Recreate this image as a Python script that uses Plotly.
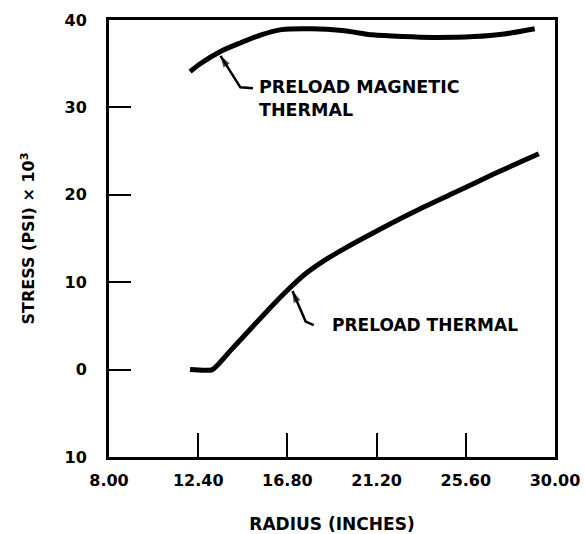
import plotly.graph_objects as go

# Data
radius_mag = [12.0, 12.5, 13.5, 14.5, 15.5, 16.5, 18.0, 19.5, 21.0, 22.5, 24.0, 26.0, 27.5, 29.0]
stress_mag = [34.1, 35.0, 36.4, 37.4, 38.3, 38.9, 39.0, 38.8, 38.3, 38.1, 38.0, 38.1, 38.4, 39.0]

radius_th = [12.0, 13.1, 14.0, 15.0, 16.0, 16.9, 17.6, 18.5, 19.5, 21.0, 23.0, 25.0, 27.0, 29.2]
stress_th = [0.0, 0.0, 2.2, 4.7, 7.2, 9.3, 10.8, 12.3, 13.7, 15.6, 18.0, 20.2, 22.4, 24.7]

x_tickvals = [8.0, 12.4, 16.8, 21.2, 25.6, 30.0]
x_ticktext = ["8.00", "12.40", "16.80", "21.20", "25.60", "30.00"]
y_tickvals = [-10, 0, 10, 20, 30, 40]
y_ticktext = ["10", "0", "10", "20", "30", "40"]

label_mag = "PRELOAD MAGNETIC<br>THERMAL"
label_th = "PRELOAD THERMAL"

# leader lines: text end -> bend -> arrow tip
leader_mag_x = [15.1, 14.48, 13.5]
leader_mag_y = [32.2, 32.3, 35.9]
leader_th_x = [18.1, 17.7, 17.05]
leader_th_y = [5.1, 5.5, 9.0]

FONT = "DejaVu Sans, Liberation Sans, sans-serif"

fig = go.Figure()
fig.add_trace(go.Scatter(x=radius_mag, y=stress_mag, mode="lines",
                         line=dict(color="black", width=5, shape="spline", smoothing=0.8), showlegend=False))
fig.add_trace(go.Scatter(x=radius_th, y=stress_th, mode="lines",
                         line=dict(color="black", width=5, shape="spline", smoothing=0.5), showlegend=False))

for lx, ly in [(leader_mag_x, leader_mag_y), (leader_th_x, leader_th_y)]:
    fig.add_trace(go.Scatter(x=lx, y=ly, mode="lines+markers",
                             line=dict(color="black", width=2.5),
                             marker=dict(symbol="arrow", angleref="previous", color="black",
                                         size=[0, 0, 12], line=dict(width=0)),
                             showlegend=False, hoverinfo="skip"))

fig.add_annotation(x=15.3, y=32.2, xref="x", yref="y", text="<b>" + label_mag + "</b>", showarrow=False,
                   xanchor="left", yanchor="middle", align="left", yshift=-10,
                   font=dict(family=FONT, size=17.5, color="black"))
fig.add_annotation(x=18.9, y=5.1, xref="x", yref="y", text="<b>" + label_th + "</b>", showarrow=False,
                   xanchor="left", yanchor="middle", font=dict(family=FONT, size=17, color="black"))

fig.update_xaxes(range=[8, 30], tickvals=x_tickvals, ticktext=x_ticktext, ticks="inside", ticklen=24,
                 tickwidth=2, tickcolor="black", showline=True, linewidth=3, linecolor="black", mirror=True,
                 showgrid=False, zeroline=False, ticklabelstandoff=7, automargin=False,
                 tickfont=dict(family=FONT, size=16, color="black", weight="bold"),
                 title=dict(text="<b>RADIUS (INCHES)</b>", font=dict(family=FONT, size=17, color="black"), standoff=29))
fig.update_yaxes(range=[-10, 40], tickvals=y_tickvals, ticktext=y_ticktext, ticks="inside", ticklen=22,
                 tickwidth=2, tickcolor="black", showline=True, linewidth=3, linecolor="black", mirror=True,
                 showgrid=False, zeroline=False, ticklabelstandoff=16, automargin=False,
                 tickfont=dict(family=FONT, size=16, color="black", weight="bold"),
                 title=dict(text="<b>STRESS (PSI) × 10<sup>3</sup></b>", font=dict(family=FONT, size=16, color="black"), standoff=26))

fig.update_layout(width=585, height=534, margin=dict(l=109, r=30, t=20, b=77),
                  plot_bgcolor="white", paper_bgcolor="white", showlegend=False)

# remove the default page margin so the figure fills the 585x534 window exactly
fig.write_html("out.html", config={"displayModeBar": False},
               post_script="document.body.style.margin='0px';document.body.style.overflow='hidden';"
                           "document.documentElement.style.overflow='hidden';")
